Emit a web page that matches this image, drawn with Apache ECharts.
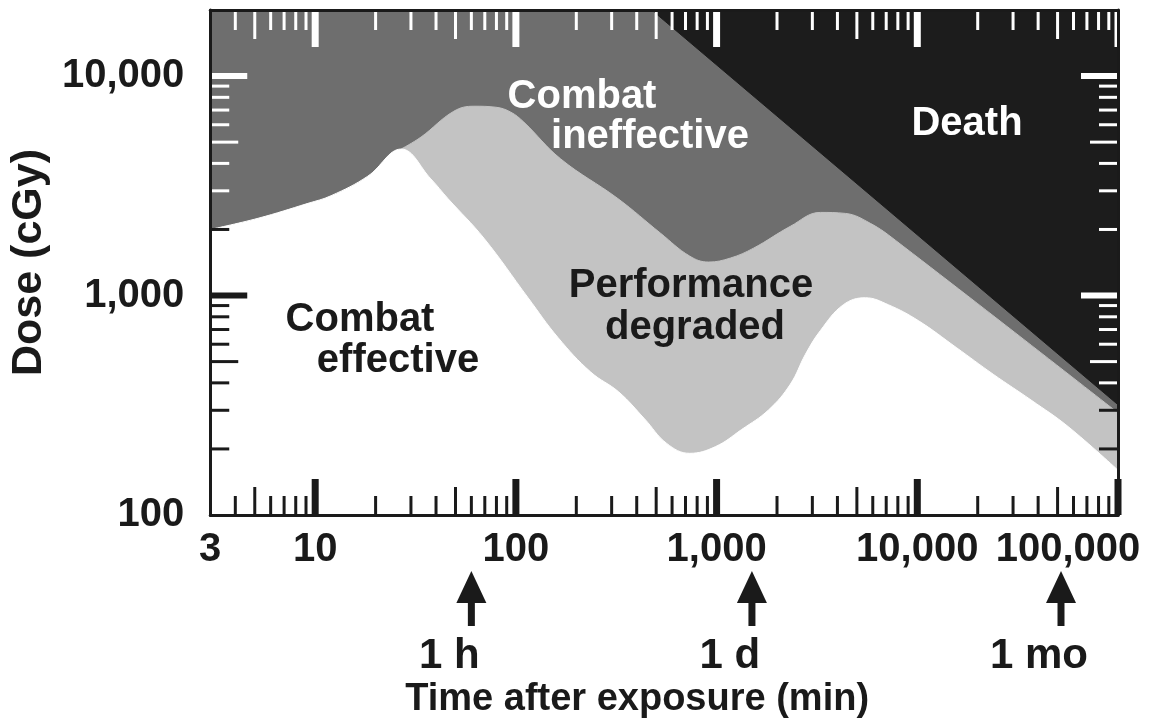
<!DOCTYPE html>
<html><head><meta charset="utf-8">
<script src="https://cdn.jsdelivr.net/npm/echarts@6/dist/echarts.min.js"></script>
<style>html,body{margin:0;padding:0;background:#fff}#c{width:1166px;height:724px}</style>
</head><body><div id="c"></div>
<script>
// ---- axis ranges ----
const X_MIN = 3, X_MAX = 100000, Y_MIN = 100, Y_MAX = 20000;

// ---- region boundaries (time in min, dose in cGy) ----
// upper edge of "Combat effective" (white)
const effectiveX = [3, 5.2, 9.2, 12, 18.3, 26.8, 37.7, 45.8, 69.3, 115, 162, 236, 325, 438, 564, 734, 988, 1331, 1814, 2333, 2771, 3291, 4281, 5510, 7172, 10111, 15627, 23880, 36910, 56390, 100000];
const effectiveY = [2000, 2250, 2630, 2850, 3500, 4650, 3400, 2770, 1825, 977, 644, 448, 364, 274, 212, 191, 205, 245, 301, 395, 540, 693, 908, 977, 908, 769, 580, 438, 334, 253, 160];
// upper edge of "Performance degraded" (light grey)
const degradedX = [26.8, 33.7, 49.1, 61.8, 79.5, 94.4, 109.5, 167, 322, 526, 734, 912, 1173, 1528, 2333, 3291, 4381, 5834, 7771, 100000];
const degradedY = [4650, 5276, 6917, 7287, 7211, 6845, 6169, 4196, 2767, 1922, 1513, 1421, 1482, 1644, 2068, 2392, 2367, 2133, 1787, 292];
// lower edge of "Death" (black)
const deathX = [475, 100000];
const deathY = [20000, 318];

// ---- ticks ----
const xMajorTicks = [10, 100, 1000, 10000, 100000];
const xMidTicks = [5, 50, 500, 5000, 50000];
const xMinorTicks = [4, 6, 7, 8, 9, 20, 30, 40, 60, 70, 80, 90, 200, 300, 400, 600, 700, 800, 900,
  2000, 3000, 4000, 6000, 7000, 8000, 9000, 20000, 30000, 40000, 60000, 70000, 80000, 90000];
const yMajorTicks = [1000, 10000];
const yMidTicks = [500, 5000];
const yMinorTicks = [200, 300, 400, 600, 700, 800, 900, 2000, 3000, 4000, 6000, 7000, 8000, 9000];

// ---- time markers ----
const markerTimes = [60, 1500, 52000];
const markerLabels = ['1 h', '1 d', '1 mo'];

const INK = '#1a1a1a', DARK = '#6e6e6e', LIGHT = '#c3c3c3', BLACK = '#1c1c1c';
const FONT = '"Liberation Sans", Arial, Helvetica, sans-serif';

function fmt(v) { return String(Math.round(v)).replace(/\B(?=(\d{3})+(?!\d))/g, ','); }
function pairs(xs, ys) { return xs.map((x, i) => [x, ys[i]]); }

const xTickData = [].concat(
  xMinorTicks.map(v => [v, Y_MIN, 0]), xMidTicks.map(v => [v, Y_MIN, 1]), xMajorTicks.map(v => [v, Y_MIN, 2]));
const yTickData = [].concat(
  yMinorTicks.map(v => [X_MIN, v, 0]), yMidTicks.map(v => [X_MIN, v, 1]), yMajorTicks.map(v => [X_MIN, v, 2]));

const LEN = [19, 28, 36];
function xTickItem(params, api) {
  const v = api.value(0), lvl = api.value(2);
  const len = LEN[lvl], w = lvl === 2 ? 7 : 3;
  const b = api.coord([v, Y_MIN]), t = api.coord([v, Y_MAX]);
  return { type: 'group', children: [
    { type: 'rect', shape: { x: b[0] - w / 2, y: b[1] - len, width: w, height: len }, style: { fill: INK } },
    { type: 'rect', shape: { x: t[0] - w / 2, y: t[1], width: w, height: len + 1 }, style: { fill: '#fff' } }
  ]};
}
function yTickItem(params, api) {
  const v = api.value(1), lvl = api.value(2);
  const len = LEN[lvl] + (lvl === 2 ? 1 : 0), h = lvl === 2 ? 6 : 3;
  const l = api.coord([X_MIN, v]), r = api.coord([X_MAX, v]);
  const leftCol = v > effectiveY[0] ? '#fff' : INK;
  const rightCol = v > deathY[deathY.length - 1] ? '#fff' : INK;
  return { type: 'group', children: [
    { type: 'rect', shape: { x: l[0], y: l[1] - h / 2, width: len, height: h }, style: { fill: leftCol } },
    { type: 'rect', shape: { x: r[0] - len, y: r[1] - h / 2, width: len, height: h }, style: { fill: rightCol } }
  ]};
}
function markerItem(params, api) {
  const p = api.coord([api.value(0), Y_MIN]);
  const x = p[0], y0 = p[1];
  return { type: 'group', children: [
    { type: 'polygon', shape: { points: [[x, y0 + 56], [x - 15, y0 + 88], [x + 15, y0 + 88]] }, style: { fill: INK } },
    { type: 'rect', shape: { x: x - 3.5, y: y0 + 86, width: 7, height: 25 }, style: { fill: INK } },
    { type: 'text', x: x - 22, y: y0 + 141, style: { text: markerLabels[params.dataIndex], fill: INK,
      font: 'bold 42px ' + FONT, align: 'center', verticalAlign: 'middle' } }
  ]};
}

const chart = echarts.init(document.getElementById('c'), null, { renderer: 'canvas' });
const axisLineStyle = { color: INK, width: 3 };
const LBL = { color: INK, fontSize: 40, fontWeight: 'bold', fontFamily: FONT };
function regionText(t, x, y, fill) {
  return { type: 'text', x: x, y: y, z: 20, style: { text: t, fill: fill, font: 'bold 40px ' + FONT, align: 'center', verticalAlign: 'middle' } };
}
chart.setOption({
  animation: false,
  backgroundColor: '#fff',
  grid: { left: 209, top: 10, right: 48, bottom: 205, show: true, backgroundColor: DARK, borderWidth: 0 },
  xAxis: [{
    type: 'log', min: X_MIN, max: X_MAX, z: 10,
    axisLine: { show: true, lineStyle: axisLineStyle },
    axisTick: { show: false }, splitLine: { show: false },
    axisLabel: Object.assign({ margin: 15,
      formatter: v => Math.round(v) === X_MAX ? '{last|' + fmt(v) + '}' : fmt(v),
      rich: { last: Object.assign({ padding: [0, 100, 0, 0] }, LBL) } }, LBL),
    name: 'Time after exposure (min)', nameLocation: 'middle', nameGap: 166,
    nameTextStyle: { color: INK, fontSize: 38, fontWeight: 'bold', fontFamily: FONT, padding: [0, 54, 0, 0] }
  }, {
    type: 'log', min: X_MIN, max: X_MAX, position: 'top', z: 10,
    axisLine: { show: true, lineStyle: axisLineStyle },
    axisTick: { show: false }, axisLabel: { show: false }, splitLine: { show: false }
  }],
  yAxis: [{
    type: 'log', min: Y_MIN, max: Y_MAX, z: 10,
    axisLine: { show: true, lineStyle: axisLineStyle },
    axisTick: { show: false }, splitLine: { show: false },
    axisLabel: Object.assign({ margin: 26, showMaxLabel: false, formatter: v => fmt(v) }, LBL),
    name: 'Dose (cGy)', nameLocation: 'middle', nameGap: 158,
    nameTextStyle: { color: INK, fontSize: 43, fontWeight: 'bold', fontFamily: FONT }
  }, {
    type: 'log', min: Y_MIN, max: Y_MAX, position: 'right', z: 10,
    axisLine: { show: true, lineStyle: axisLineStyle },
    axisTick: { show: false }, axisLabel: { show: false }, splitLine: { show: false }
  }],
  series: [
    { type: 'line', name: 'Performance degraded', data: pairs(degradedX, degradedY), symbol: 'none', smooth: 0.4,
      silent: true, z: 2, lineStyle: { color: LIGHT, width: 1 }, areaStyle: { color: LIGHT, opacity: 1, origin: 'start' } },
    { type: 'line', name: 'Combat effective', data: pairs(effectiveX, effectiveY), symbol: 'none', smooth: 0.4,
      silent: true, z: 3, lineStyle: { color: '#fff', width: 1 }, areaStyle: { color: '#fff', opacity: 1, origin: 'start' } },
    { type: 'line', name: 'Death', data: pairs(deathX, deathY), symbol: 'none', smooth: false,
      silent: true, z: 4, lineStyle: { color: BLACK, width: 1 }, areaStyle: { color: BLACK, opacity: 1, origin: 'end' } },
    { type: 'custom', name: 'xticks', data: xTickData, encode: { x: 0, y: 1 }, renderItem: xTickItem, z: 6, silent: true, clip: false },
    { type: 'custom', name: 'yticks', data: yTickData, encode: { x: 0, y: 1 }, renderItem: yTickItem, z: 6, silent: true, clip: false },
    { type: 'custom', name: 'markers', data: markerTimes.map(t => [t, Y_MIN]), encode: { x: 0, y: 1 }, renderItem: markerItem, z: 6, silent: true, clip: false }
  ],
  graphic: [
    regionText('Combat', 582, 97, '#fff'),
    regionText('ineffective', 650, 137, '#fff'),
    regionText('Death', 967, 124, '#fff'),
    regionText('Performance', 691, 286, INK),
    regionText('degraded', 695, 328, INK),
    regionText('Combat', 360, 320, INK),
    regionText('effective', 398, 361, INK)
  ]
});
</script>
</body></html>
